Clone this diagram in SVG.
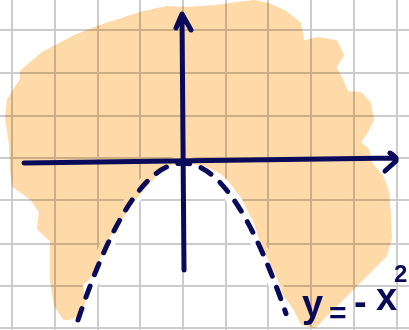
<svg xmlns="http://www.w3.org/2000/svg" width="409" height="330" viewBox="0 0 409 330">
<style>
.grid{stroke:#cccccc;stroke-width:2;fill:none}
.ink{stroke:#0a0a5a;fill:none;stroke-linecap:round;stroke-linejoin:round}
.lbl{font-family:"Liberation Sans",Arial,sans-serif;font-weight:bold;fill:#0a0a5a}
</style>
<rect x="0" y="0" width="409" height="330" fill="#ffffff"/>
<g id="grid" class="grid">
<path d="M12,0V330M55,0V330M98,0V330M140,0V330M183,0V330M226,0V330M268,0V330M311,0V330M354,0V330M397,0V330"/>
<path d="M0,30H409M0,73H409M0,116H409M0,158H409M0,200H409M0,244H409M0,286H409M0,328H409"/>
</g>
<g id="eraser">
<path d="M78,320 Q182,9.5 286,313.6" fill="none" stroke="#ffffff" stroke-width="14"/>
</g>
<g id="shading" style="mix-blend-mode:multiply">
<path fill="#fedaa8" stroke="#fedaa8" stroke-width="6" stroke-linejoin="round" d="M23,72 L43,55 77,37 100,28 140,15 167,9 187,10 215,8 254,3 268,6 284,13 298,24 302,44 318,40 335,43 341,55 333,67 340,80 346,94 360,95 368,104 371,120 364,133 357,143 366,150 370,165 381,178 386,192 388,215 389,238 384,255 314,325 303,322 296,308 286,294 279,275 264,245 257,223 244,197 232,181 222,171 210,165 200,162 183,160 170,162 158,170 140,190 127,207 113,227 103,242 93,270 85,280 80,282 82,303 77,313 70,317 65,317 57,305 53,282 53,240 40,228 42,212 33,198 15,185 13,170 12,145 8,117 10,100 23,80 Z"/>
</g>
<g id="connectors">
<path id="x-axis" class="ink" stroke-width="5" d="M24,163 L396,158 M390,153 Q397,157 396,161 L385,171"/>
<path id="y-axis" class="ink" stroke-width="5" d="M182,15 L184,270 M176,28 L182,14 L191,30"/>
<path id="parabola" class="ink" stroke-width="5" stroke-dasharray="12 12" d="M78,320 Q182,9.5 286,313.6"/>
</g>
<g id="label">
<text class="lbl"><tspan x="302" y="317" font-size="38">y</tspan><tspan x="329" y="323" font-size="30">=</tspan><tspan x="354" y="315" font-size="38">-</tspan><tspan x="376" y="310" font-size="38">x</tspan><tspan x="394" y="282" font-size="24">2</tspan></text>
</g>
</svg>
